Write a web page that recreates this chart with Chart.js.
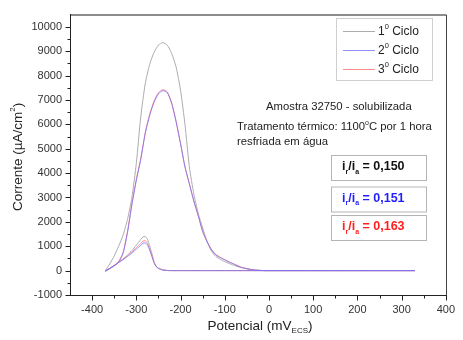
<!DOCTYPE html>
<html lang="pt">
  <head>
    <meta charset="utf-8" />
    <title>Amostra 32750 - solubilizada</title>
    <style>
      * { margin: 0; padding: 0; }
      body { background: #fff; }
      .chartBox { width: 463px; height: 340px; }
    </style>
  </head>
  <body>
    <div class="chartBox"><canvas id="myChart"></canvas></div>

    <script src="https://cdn.jsdelivr.net/npm/chart.js@4.4.1/dist/chart.umd.min.js"></script>

    <script>
      // data block
      const potFwd = [-370, -360, -350, -340, -330, -320, -310, -300, -290, -280, -270, -260, -250, -240, -230, -220, -210, -200, -190, -180, -170, -160, -150, -140, -130, -120, -110, -100, -90, -80, -70, -60, -50, -40, -30, -20, -10, 0, 50, 100, 150, 200, 250, 300, 330];
      const potRev = [330, 300, 250, 200, 150, 100, 50, 0, -50, -100, -150, -200, -220, -230, -240, -250, -255, -260, -265, -270, -275, -280, -285, -290, -295, -300, -310, -320, -330, -340, -350, -360, -370];

      const ciclo1Fwd = [0, 280, 600, 1000, 1450, 2100, 3000, 4400, 6300, 7650, 8450, 8950, 9250, 9350, 9250, 8900, 8350, 7400, 6000, 4250, 3150, 2350, 1750, 1200, 800, 580, 460, 370, 290, 220, 160, 110, 70, 40, 20, 10, 0, 0, 0, 0, 0, 0, 0, 0, 0];
      const ciclo2Fwd = [0, 80, 200, 350, 700, 1550, 2700, 3700, 4550, 5600, 6350, 6900, 7250, 7380, 7300, 6850, 6100, 5200, 4250, 3550, 2850, 2250, 1600, 1180, 850, 640, 530, 440, 350, 270, 190, 120, 80, 45, 20, 8, 0, 0, 0, 0, 0, 0, 0, 0, 0];
      const ciclo3Fwd = [0, 90, 220, 380, 750, 1600, 2750, 3750, 4600, 5650, 6400, 6950, 7300, 7420, 7330, 6880, 6120, 5220, 4270, 3570, 2870, 2270, 1620, 1200, 870, 660, 545, 450, 360, 280, 195, 125, 85, 48, 22, 10, 0, 0, 0, 0, 0, 0, 0, 0, 0];

      const ciclo1Rev = [0, 0, 0, 0, 0, 0, 0, 0, 0, 0, 0, 0, 0, 5, 30, 100, 180, 380, 720, 1020, 1290, 1400, 1380, 1280, 1160, 1040, 820, 640, 480, 340, 210, 90, -30];
      const ciclo2Rev = [0, 0, 0, 0, 0, 0, 0, 0, 0, 0, 0, 0, 0, 5, 25, 90, 160, 320, 590, 850, 1060, 1140, 1120, 1040, 960, 880, 720, 580, 450, 330, 200, 90, -30];
      const ciclo3Rev = [0, 0, 0, 0, 0, 0, 0, 0, 0, 0, 0, 0, 0, 5, 28, 95, 170, 340, 630, 900, 1130, 1230, 1210, 1120, 1030, 940, 770, 610, 470, 340, 210, 95, -30];

      const labels = ["1", "2", "3"];
      const ratios = ["0,150", "0,151", "0,163"];
      const xTicks = [-400, -300, -200, -100, 0, 100, 200, 300, 400];
      const yTicks = [-1000, 0, 1000, 2000, 3000, 4000, 5000, 6000, 7000, 8000, 9000, 10000];

      const lineColors = ["rgb(172, 172, 172)", "rgba(110, 110, 255, 0.75)", "rgb(255, 140, 140)"];
      const textColors = ["#111", "#1f1fff", "#ff1f1f"];

      const toPts = (xs, ys) => xs.map((v, i) => ({ x: v, y: ys[i] }));
      const cycles = [
        toPts(potFwd, ciclo1Fwd).concat(toPts(potRev, ciclo1Rev)),
        toPts(potFwd, ciclo2Fwd).concat(toPts(potRev, ciclo2Rev)),
        toPts(potFwd, ciclo3Fwd).concat(toPts(potRev, ciclo3Rev)),
      ];

      const FONT = '"Liberation Sans", Arial, sans-serif';

      // draws a run of text pieces (for sub/superscripts)
      function rich(ctx, parts, x, y, align) {
        let w = 0;
        parts.forEach((p) => { ctx.font = p.f; w += ctx.measureText(p.t).width; });
        let cx = align === "center" ? x - w / 2 : x;
        parts.forEach((p) => {
          ctx.font = p.f;
          ctx.fillStyle = p.c || "#222";
          ctx.fillText(p.t, cx, y + (p.dy || 0));
          cx += ctx.measureText(p.t).width;
        });
      }

      function seg(ctx, x1, y1, x2, y2) {
        ctx.beginPath();
        ctx.moveTo(x1, y1);
        ctx.lineTo(x2, y2);
        ctx.stroke();
      }

      // frame, ticks, legend and notes
      const decor = {
        id: "decor",
        afterDraw(chart) {
          const { ctx, chartArea, scales: { x, y } } = chart;
          const left = Math.round(chartArea.left) + 0.5;
          const right = Math.round(chartArea.right) + 0.5;
          const top = Math.round(chartArea.top);
          const bottom = Math.round(chartArea.bottom) + 0.5;
          ctx.save();
          ctx.textBaseline = "middle";

          // frame
          ctx.lineWidth = 2;
          ctx.strokeStyle = "#8c8c8c";
          seg(ctx, left, top, right, top);
          ctx.lineWidth = 1;
          ctx.strokeStyle = "#444";
          seg(ctx, right, top, right, bottom);
          ctx.strokeStyle = "#222";
          seg(ctx, left, top - 1, left, bottom);
          seg(ctx, left - 0.5, bottom, right + 0.5, bottom);

          // ticks (major + minor)
          xTicks.forEach((v, i) => {
            const px = Math.round(x.getPixelForValue(v)) + 0.5;
            seg(ctx, px, bottom, px, bottom + 5);
            if (i < xTicks.length - 1) {
              const mx = Math.round(x.getPixelForValue(v + 50)) + 0.5;
              seg(ctx, mx, bottom, mx, bottom + 3);
            }
          });
          yTicks.forEach((v, i) => {
            const py = Math.round(y.getPixelForValue(v)) + 0.5;
            seg(ctx, left - 5, py, left, py);
            if (i < yTicks.length - 1) {
              const my = Math.round(y.getPixelForValue(v + 500)) + 0.5;
              seg(ctx, left - 3, my, left, my);
            }
          });

          // axis titles
          rich(ctx, [
            { t: "Potencial (mV", f: "13.5px " + FONT },
            { t: "ECS", f: "8px " + FONT, dy: 5 },
            { t: ")", f: "13.5px " + FONT },
          ], 260, 326, "center");
          ctx.save();
          ctx.translate(18, 157);
          ctx.rotate(-Math.PI / 2);
          rich(ctx, [
            { t: "Corrente (\u00b5A/cm", f: "13.5px " + FONT },
            { t: "2", f: "8px " + FONT, dy: -5 },
            { t: ")", f: "13.5px " + FONT },
          ], 0, 0, "center");
          ctx.restore();

          // legend
          ctx.strokeStyle = "#cfcfcf";
          ctx.strokeRect(336.5, 18.5, 96, 62);
          chart.data.datasets.forEach((ds, i) => {
            const ly = 31.5 + i * 19;
            ctx.strokeStyle = ds.borderColor;
            seg(ctx, 343, ly, 375, ly);
            rich(ctx, [
              { t: labels[i], f: "12px " + FONT },
              { t: "0", f: "7.5px " + FONT, dy: -5 },
              { t: " Ciclo", f: "12px " + FONT },
            ], 378, ly);
          });

          // sample notes
          const nf = "11.3px " + FONT;
          rich(ctx, [{ t: "Amostra 32750 - solubilizada", f: nf }], 266, 107);
          rich(ctx, [
            { t: "Tratamento t\u00e9rmico: 1100", f: nf },
            { t: "o", f: "7px " + FONT, dy: -4 },
            { t: "C por 1 hora", f: nf },
          ], 237, 127);
          rich(ctx, [{ t: "resfriada em \u00e1gua", f: nf }], 237, 142);

          // ratio boxes
          const boxTops = [155, 186.5, 215];
          ctx.strokeStyle = "#b5b5b5";
          ratios.forEach((r, i) => {
            ctx.strokeRect(331.5, boxTops[i] + 0.5, 95, 25);
            const bf = "bold 12.5px " + FONT;
            const sf = "bold 7px " + FONT;
            const c = textColors[i];
            rich(ctx, [
              { t: "i", f: bf, c },
              { t: "r", f: sf, c, dy: 5 },
              { t: "/i", f: bf, c },
              { t: "a", f: sf, c, dy: 5 },
              { t: " = " + r, f: bf, c },
            ], 342, boxTops[i] + 12);
          });

          ctx.restore();
        },
      };

      // config block
      const config = {
        type: "scatter",
        data: {
          datasets: cycles.map((pts, i) => ({
            label: labels[i] + "\u00b0 Ciclo",
            data: pts,
            showLine: true,
            borderColor: lineColors[i],
            borderWidth: 1,
            pointRadius: 0,
            tension: 0.2,
            order: [3, 1, 2][i],
          })),
        },
        options: {
          responsive: true,
          maintainAspectRatio: false,
          animation: false,
          layout: { padding: { top: 13, right: 10, left: 0, bottom: 0 } },
          plugins: { legend: { display: false }, tooltip: { enabled: false } },
          scales: {
            x: {
              type: "linear",
              min: -450,
              max: 400,
              grid: { display: false, drawTicks: false },
              border: { display: false },
              afterBuildTicks: (s) => { s.ticks = xTicks.map((v) => ({ value: v })); },
              afterFit: (s) => { s.height = 45; },
              ticks: {
                autoSkip: false,
                maxRotation: 0,
                padding: 8,
                color: "#333",
                font: { family: FONT, size: 11 },
                callback: (v) => String(v),
              },
            },
            y: {
              type: "linear",
              min: -1000,
              max: 10500,
              grid: { display: false, drawTicks: false },
              border: { display: false },
              afterBuildTicks: (s) => { s.ticks = yTicks.map((v) => ({ value: v })); },
              afterFit: (s) => { s.width = 70; },
              ticks: {
                autoSkip: false,
                padding: 8,
                color: "#333",
                font: { family: FONT, size: 11 },
                callback: (v) => String(v),
              },
            },
          },
        },
        plugins: [decor],
      };

      // init render block
      const myChart = new Chart(document.getElementById("myChart"), config);
    </script>
  </body>
</html>
